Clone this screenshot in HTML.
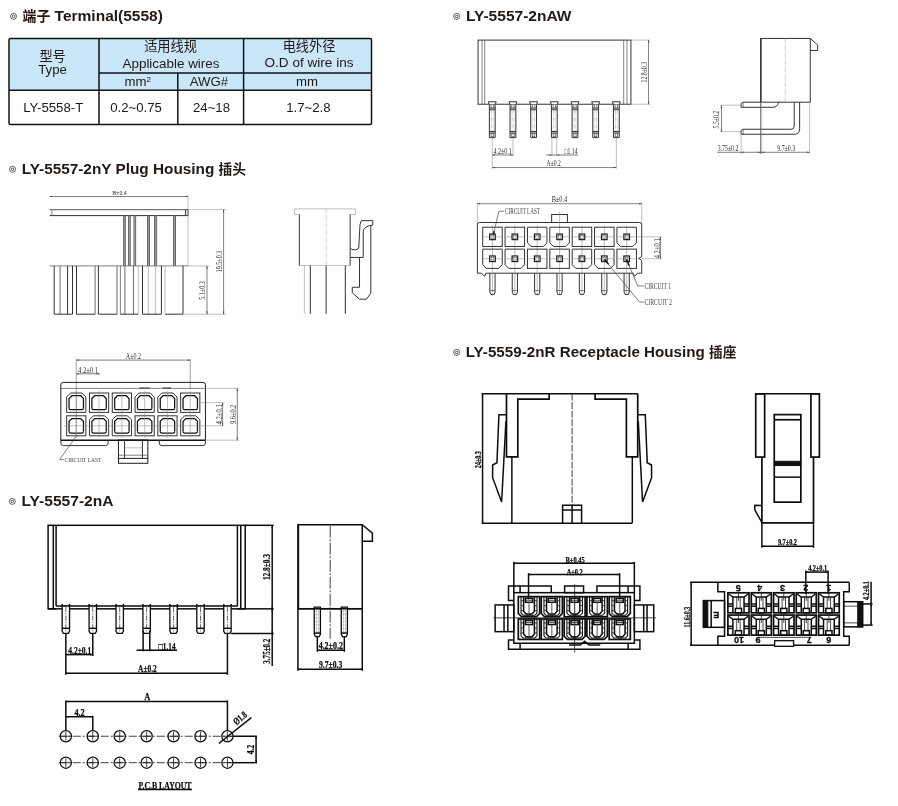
<!DOCTYPE html>
<html lang="zh"><head><meta charset="utf-8"><title>LY-5557 / LY-5559 connector drawings</title>
<style>
html,body{margin:0;padding:0;background:#fff}
body{width:898px;height:806px;overflow:hidden;font-family:"Liberation Sans","Noto Sans CJK SC",sans-serif}
svg{display:block;will-change:transform}
path,rect,circle{fill:none}
.k{stroke:#1c1c1c;stroke-width:1}
.k2{stroke:#111;stroke-width:1.5}
.k3{stroke:#111;stroke-width:2}
.kt{stroke:#222;stroke-width:.7}
.g{stroke:#4a4a4a;stroke-width:.7}
.g2{stroke:#333;stroke-width:1}
.gl{stroke:#8a8a8a;stroke-width:.55}
.gm{stroke:#777;stroke-width:1.1}
.gm2{stroke:#666;stroke-width:.6}
.ki{stroke:#111;stroke-width:1.25}
.gd{stroke:#9a9a9a;stroke-width:.5;stroke-dasharray:4 1.2 1 1.2}
.kd{stroke:#222;stroke-width:.7;stroke-dasharray:5 1.5 1.2 1.5}
.kf{fill:#1c1c1c;stroke:none}
.b{stroke:#0d0d0d;stroke-width:1.5}
.b2{stroke:#0d0d0d;stroke-width:1.7}
.bt{stroke:#1a1a1a;stroke-width:.8}
.bg{stroke:#555;stroke-width:1}
.bm{stroke:#111;stroke-width:1.1}
.bfs{fill:#111;stroke:#111;stroke-width:1}
.bd2{stroke:#111;stroke-width:.8;stroke-dasharray:7 1.5}
.bd{stroke:#111;stroke-width:.8;stroke-dasharray:8 2 2 2}
.bc{stroke:#0d0d0d;stroke-width:1.25}
.kd3{stroke:#555;stroke-width:.5;stroke-dasharray:2.5 1}
.kd4{stroke:#111;stroke-width:.8;stroke-dasharray:12 1.5 2 1.5}
.wb{fill:#fff;stroke:#0d0d0d;stroke-width:1.3}
.kd2{stroke:#222;stroke-width:.7;stroke-dasharray:5 1.2 1.2 1.2}
.dk2{font-family:"Liberation Serif",serif;font-size:8px;fill:#111;font-weight:bold}
.gf{fill:#4a4a4a;stroke:none}
.glf{fill:#8a8a8a;stroke:none}
.bul{stroke:#231815;stroke-width:.7}
.tb{stroke:#111;stroke-width:1.5}
.hb{fill:#c9e7f9;stroke:none}
.wf{fill:#fff;stroke:#1c1c1c;stroke-width:1}
.bf{fill:#111;stroke:none}
.rf{fill:#999;stroke:none}
.wfill{fill:#fff;stroke:none}
.wg{fill:#fff;stroke:#333;stroke-width:1}
.sq{fill:#eee;stroke:#444;stroke-width:.5}
.sqo{fill:#fff;stroke:#1c1c1c;stroke-width:1.2}
text{font-family:"Liberation Sans","Noto Sans CJK SC",sans-serif;fill:#231815}
.tt{font-size:15.4px;font-weight:bold}
.tcj{font-size:13.8px}
.tc{font-size:13.2px;font-family:"Liberation Sans","Noto Sans CJK SC",sans-serif}
.tx{font-size:13.2px}
.d{font-family:"Liberation Serif",serif;font-size:7.5px;fill:#2a2a2a}
.dk{font-family:"Liberation Serif",serif;font-size:10px;fill:#0d0d0d;font-weight:bold;stroke:#0d0d0d;stroke-width:.25px}
.dg{font-family:"Liberation Serif",serif;font-size:7px;fill:#444}
.nb{font-family:"Liberation Sans",sans-serif;font-size:9px;fill:#0d0d0d;font-weight:bold;stroke:#0d0d0d;stroke-width:.3px}
</style></head>
<body>
<svg width="898" height="806" viewBox="0 0 898 806">
<circle class="bul" cx="13.5" cy="16.3" r="3"/>
<circle class="bul" cx="13.5" cy="16.3" r="1.2"/>
<text class="tt" x="22.5" y="20.9" text-anchor="start" textLength="140.4" lengthAdjust="spacingAndGlyphs"><tspan class="tcj">端子</tspan> Terminal(5558)</text>
<circle class="bul" cx="12.5" cy="169.3" r="3"/>
<circle class="bul" cx="12.5" cy="169.3" r="1.2"/>
<text class="tt" x="21.7" y="173.9" text-anchor="start" textLength="224.4" lengthAdjust="spacingAndGlyphs">LY-5557-2nY Plug Housing <tspan class="tcj">插头</tspan></text>
<circle class="bul" cx="12.3" cy="501.4" r="3"/>
<circle class="bul" cx="12.3" cy="501.4" r="1.2"/>
<text class="tt" x="21.5" y="506" text-anchor="start" textLength="92" lengthAdjust="spacingAndGlyphs">LY-5557-2nA</text>
<circle class="bul" cx="456.7" cy="16.4" r="3"/>
<circle class="bul" cx="456.7" cy="16.4" r="1.2"/>
<text class="tt" x="465.9" y="21" text-anchor="start" textLength="105.6" lengthAdjust="spacingAndGlyphs">LY-5557-2nAW</text>
<circle class="bul" cx="456.7" cy="352.4" r="3"/>
<circle class="bul" cx="456.7" cy="352.4" r="1.2"/>
<text class="tt" x="465.7" y="357" text-anchor="start" textLength="270.6" lengthAdjust="spacingAndGlyphs">LY-5559-2nR Receptacle Housing <tspan class="tcj">插座</tspan></text>
<rect class="hb" x="9" y="38.4" width="362.5" height="51.8"/>
<rect class="tb" x="9" y="38.4" width="362.5" height="86.2" rx="1.5"/>
<path class="tb" d="M99 38.4L99 124.6"/>
<path class="tb" d="M243.6 38.4L243.6 124.6"/>
<path class="tb" d="M177.8 73.1L177.8 124.6"/>
<path class="tb" d="M99 73.1L371.5 73.1"/>
<path class="tb" d="M9 90.2L371.5 90.2"/>
<text class="tc" x="52.6" y="60.5" text-anchor="middle">型号</text>
<text class="tx" x="52.6" y="74.2" text-anchor="middle">Type</text>
<text class="tc" x="170.5" y="50.8" text-anchor="middle">适用线规</text>
<text class="tx" x="171" y="67.8" text-anchor="middle" textLength="97" lengthAdjust="spacingAndGlyphs">Applicable wires</text>
<text class="tc" x="309" y="50.8" text-anchor="middle">电线外径</text>
<text class="tx" x="309" y="67.3" text-anchor="middle" textLength="89" lengthAdjust="spacingAndGlyphs">O.D of wire ins</text>
<text class="tx" x="137.7" y="85.5" text-anchor="middle">mm<tspan dy="-4" font-size="8">2</tspan></text>
<text class="tx" x="209" y="85.5" text-anchor="middle">AWG#</text>
<text class="tx" x="307" y="85.5" text-anchor="middle">mm</text>
<text class="tx" x="53.2" y="112.2" text-anchor="middle">LY-5558-T</text>
<text class="tx" x="136" y="112.2" text-anchor="middle">0.2~0.75</text>
<text class="tx" x="211.5" y="112.2" text-anchor="middle">24~18</text>
<text class="tx" x="308.4" y="112.2" text-anchor="middle">1.7~2.8</text>
<path class="g" d="M49.6 196.5L188 196.5"/>
<path class="gf" d="M49.6 196.5L52.2 195.7L52.2 197.3Z"/>
<path class="gf" d="M188 196.5L185.4 195.7L185.4 197.3Z"/>
<path class="gl" d="M188 194.5L188 209.6"/>
<text class="d" x="119.5" y="195" text-anchor="middle" textLength="14.7" lengthAdjust="spacingAndGlyphs" style="font-size:6px">B±0.4</text>
<path class="gm" d="M49.6 209.6L188 209.6"/>
<path class="g2" d="M49.6 215.6L188 215.6"/>
<path class="g" d="M51.9 209.6L51.9 215.6"/>
<path class="g2" d="M188 209.6L188 215.6"/>
<path class="g2" d="M185.6 209.6L185.6 215.6"/>
<path class="gl" d="M188 215.6L188 265.9"/>
<path class="g" d="M49.6 265.9L188 265.9"/>
<path class="g2" d="M123.7 215.6L123.7 265.9"/>
<path class="g2" d="M125.2 215.6L125.2 265.9"/>
<rect class="rf" x="123.7" y="215.6" width="1.5" height="50.3"/>
<path class="g2" d="M128.6 215.6L128.6 265.9"/>
<path class="g2" d="M130.1 215.6L130.1 265.9"/>
<rect class="rf" x="128.6" y="215.6" width="1.5" height="50.3"/>
<path class="g2" d="M134.1 215.6L134.1 265.9"/>
<path class="g2" d="M135.6 215.6L135.6 265.9"/>
<rect class="rf" x="134.1" y="215.6" width="1.5" height="50.3"/>
<path class="g2" d="M147.7 215.6L147.7 265.9"/>
<path class="g2" d="M149.5 215.6L149.5 265.9"/>
<rect class="rf" x="147.7" y="215.6" width="1.8" height="50.3"/>
<path class="g2" d="M154.7 215.6L154.7 265.9"/>
<path class="g2" d="M156.6 215.6L156.6 265.9"/>
<rect class="rf" x="154.7" y="215.6" width="1.9" height="50.3"/>
<path class="g2" d="M173.7 215.6L173.7 265.9"/>
<path class="g2" d="M175.5 215.6L175.5 265.9"/>
<rect class="rf" x="173.7" y="215.6" width="1.8" height="50.3"/>
<path class="g2" d="M54.2 265.9L54.2 314.2"/>
<path class="gm" d="M60.1 265.9L60.1 314.2"/>
<path class="g2" d="M67.6 265.9L67.6 314.2"/>
<path class="g2" d="M72.5 265.9L72.5 314.2"/>
<path class="g2" d="M54.2 314.2L72.5 314.2"/>
<path class="g2" d="M76.5 265.9L76.5 314.2"/>
<path class="gm" d="M95.1 265.9L95.1 314.2"/>
<path class="g2" d="M76.5 314.2L95.1 314.2"/>
<path class="g2" d="M98.4 265.9L98.4 314.2"/>
<path class="gm" d="M117 265.9L117 314.2"/>
<path class="g2" d="M98.4 314.2L117 314.2"/>
<path class="g" d="M120.4 265.9L120.4 314.2"/>
<path class="gm" d="M124.9 265.9L124.9 314.2"/>
<path class="gm" d="M133.5 265.9L133.5 314.2"/>
<path class="gl" d="M138.3 265.9L138.3 314.2"/>
<path class="g2" d="M120.4 314.2L138.3 314.2"/>
<path class="g2" d="M142.5 265.9L142.5 314.2"/>
<path class="gl" d="M148.4 265.9L148.4 314.2"/>
<path class="gl" d="M155.4 265.9L155.4 314.2"/>
<path class="g2" d="M161.4 265.9L161.4 314.2"/>
<path class="g2" d="M142.5 314.2L161.4 314.2"/>
<path class="gl" d="M165.1 265.9L165.1 314.2"/>
<path class="g2" d="M183 265.9L183 314.2"/>
<path class="g2" d="M165.1 314.2L183 314.2"/>
<path class="gl" d="M188 209.6L226 209.6"/>
<path class="gl" d="M188 265.9L209.5 265.9"/>
<path class="gl" d="M183.7 314.2L226 314.2"/>
<path class="g" d="M207 265.9L207 314.2"/>
<path class="gf" d="M207 265.9L206.2 268.5L207.8 268.5Z"/>
<path class="gf" d="M207 314.2L206.2 311.6L207.8 311.6Z"/>
<path class="g" d="M223.6 209.6L223.6 314.2"/>
<path class="gf" d="M223.6 209.6L222.8 212.2L224.4 212.2Z"/>
<path class="gf" d="M223.6 314.2L222.8 311.6L224.4 311.6Z"/>
<text class="d" x="205.4" y="290.5" text-anchor="middle" transform="rotate(-90 205.4 290.5)" textLength="18.6" lengthAdjust="spacingAndGlyphs">5.1±0.3</text>
<text class="d" x="222" y="261.5" text-anchor="middle" transform="rotate(-90 222 261.5)" textLength="21.6" lengthAdjust="spacingAndGlyphs">19.5±0.3</text>
<path class="gl" d="M294.52 208.87L355.48 208.87"/>
<path class="gl" d="M294.52 208.87L294.52 214.52"/>
<path class="gl" d="M355.48 208.87L355.48 214.52"/>
<path class="gl" d="M294.52 214.52L299.35 214.52"/>
<path class="gl" d="M350.16 214.52L355.48 214.52"/>
<path class="g2" d="M299.35 214.52L299.35 265.48"/>
<path class="g2" d="M350.16 214.52L350.16 265.48"/>
<path class="gl" d="M299.35 265.48L350.16 265.48"/>
<path class="gd" d="M326.13 208.87L326.13 265.48"/>
<path class="gl" d="M304.35 265.48L304.35 313.87"/>
<path class="g2" d="M310.32 265.48L310.32 313.87"/>
<path class="g2" d="M326.13 265.48L326.13 313.87"/>
<path class="g2" d="M345.32 265.48L345.32 313.87"/>
<path class="g2" d="M350.16 247.74L351.45 249.35L355.48 250L358.71 248.39L360 224.68L361.29 220.65L372.74 220.65L372.74 225.16"/>
<path class="g2" d="M372.74 225.16Q364.35 225.81 363.23 231.13"/>
<path class="g2" d="M363.23 231.13L363.23 257.42L350.16 257.42"/>
<path class="g2" d="M359.52 257.42L359.52 287.26L352.26 287.26L352.26 292.74L359.52 299.19L366.45 299.19L370.81 293.23L370.81 225.81"/>
<path class="g" d="M76.27 360.1L190.25 360.1"/>
<path class="gf" d="M76.27 360.1L78.87 359.3L78.87 360.9Z"/>
<path class="gf" d="M190.25 360.1L187.65 359.3L187.65 360.9Z"/>
<text class="d" x="133.4" y="359" text-anchor="middle" textLength="15.2" lengthAdjust="spacingAndGlyphs">A±0.2</text>
<path class="g" d="M76.27 373.82L99.07 373.82"/>
<path class="gf" d="M76.27 373.82L78.87 373.02L78.87 374.62Z"/>
<path class="gf" d="M99.07 373.82L96.47 373.02L96.47 374.62Z"/>
<text class="d" x="88" y="372.8" text-anchor="middle" textLength="20" lengthAdjust="spacingAndGlyphs">4.2±0.1</text>
<path class="gm2" d="M76.27 359.12L76.27 436.81"/>
<path class="gm2" d="M190.25 359.12L190.25 389.02"/>
<path class="g" d="M99.07 372.84L99.07 374.8"/>
<path class="k" d="M60.83 440.2L60.83 384.9Q60.83 382.4 63.33 382.4L202.94 382.4Q205.44 382.4 205.44 384.9L205.44 440.2"/>
<path class="g" d="M60.83 388.4L205.44 388.4"/>
<path class="k2" d="M60.83 440.2L205.44 440.2"/>
<path class="g2" d="M60.83 440.2L60.83 443.1Q60.83 445.6 63.33 445.6L105.64 445.6Q108.14 445.6 108.14 443.1"/>
<path class="g2" d="M108.14 440.2L108.14 443.1"/>
<path class="g2" d="M205.44 440.2L205.44 443.1Q205.44 445.6 202.94 445.6L161.86 445.6Q159.36 445.6 159.36 443.1"/>
<path class="g2" d="M159.36 440.2L159.36 443.1"/>
<rect class="k" x="118.43" y="440" width="29.41" height="23.28"/>
<path class="k" d="M118.43 458.38L147.84 458.38"/>
<path class="g2" d="M124.56 440L124.56 458.38"/>
<path class="g2" d="M142.45 440L142.45 458.38"/>
<path class="gl" d="M124.56 447.84L142.45 447.84"/>
<path class="g" d="M118.43 455.2L147.84 455.2"/>
<path class="g2" d="M66.67 412.4L66.67 397L70.67 393L81.87 393L85.87 397L85.87 412.4Z"/>
<path class="ki" d="M69.07 408.2L69.07 398.5L71.87 395.7L80.67 395.7L83.47 398.5L83.47 408.2"/>
<path class="ki" d="M69.07 408.2Q69.07 409.6 70.47 409.6L82.07 409.6Q83.47 409.6 83.47 408.2"/>
<rect class="g2" x="66.67" y="415.8" width="19.2" height="20"/>
<path class="ki" d="M69.07 431.6L69.07 421.3L71.87 418.5L80.67 418.5L83.47 421.3L83.47 431.6"/>
<path class="ki" d="M69.07 431.6Q69.07 433 70.47 433L82.07 433Q83.47 433 83.47 431.6"/>
<rect class="g2" x="89.47" y="393" width="19.2" height="19.4"/>
<path class="ki" d="M91.87 408.2L91.87 398.5L94.67 395.7L103.47 395.7L106.27 398.5L106.27 408.2"/>
<path class="ki" d="M91.87 408.2Q91.87 409.6 93.27 409.6L104.87 409.6Q106.27 409.6 106.27 408.2"/>
<path class="g2" d="M89.47 435.8L89.47 419.8L93.47 415.8L104.67 415.8L108.67 419.8L108.67 435.8Z"/>
<path class="ki" d="M91.87 431.6L91.87 421.3L94.67 418.5L103.47 418.5L106.27 421.3L106.27 431.6"/>
<path class="ki" d="M91.87 431.6Q91.87 433 93.27 433L104.87 433Q106.27 433 106.27 431.6"/>
<rect class="g2" x="112.26" y="393" width="19.2" height="19.4"/>
<path class="ki" d="M114.66 408.2L114.66 398.5L117.46 395.7L126.26 395.7L129.06 398.5L129.06 408.2"/>
<path class="ki" d="M114.66 408.2Q114.66 409.6 116.06 409.6L127.66 409.6Q129.06 409.6 129.06 408.2"/>
<path class="g2" d="M112.26 435.8L112.26 419.8L116.26 415.8L127.46 415.8L131.46 419.8L131.46 435.8Z"/>
<path class="ki" d="M114.66 431.6L114.66 421.3L117.46 418.5L126.26 418.5L129.06 421.3L129.06 431.6"/>
<path class="ki" d="M114.66 431.6Q114.66 433 116.06 433L127.66 433Q129.06 433 129.06 431.6"/>
<path class="g2" d="M135.06 412.4L135.06 397L139.06 393L150.26 393L154.26 397L154.26 412.4Z"/>
<path class="ki" d="M137.46 408.2L137.46 398.5L140.26 395.7L149.06 395.7L151.86 398.5L151.86 408.2"/>
<path class="ki" d="M137.46 408.2Q137.46 409.6 138.86 409.6L150.46 409.6Q151.86 409.6 151.86 408.2"/>
<rect class="g2" x="135.06" y="415.8" width="19.2" height="20"/>
<path class="ki" d="M137.46 431.6L137.46 421.3L140.26 418.5L149.06 418.5L151.86 421.3L151.86 431.6"/>
<path class="ki" d="M137.46 431.6Q137.46 433 138.86 433L150.46 433Q151.86 433 151.86 431.6"/>
<path class="g2" d="M157.85 412.4L157.85 397L161.85 393L173.05 393L177.05 397L177.05 412.4Z"/>
<path class="ki" d="M160.25 408.2L160.25 398.5L163.05 395.7L171.85 395.7L174.65 398.5L174.65 408.2"/>
<path class="ki" d="M160.25 408.2Q160.25 409.6 161.65 409.6L173.25 409.6Q174.65 409.6 174.65 408.2"/>
<rect class="g2" x="157.85" y="415.8" width="19.2" height="20"/>
<path class="ki" d="M160.25 431.6L160.25 421.3L163.05 418.5L171.85 418.5L174.65 421.3L174.65 431.6"/>
<path class="ki" d="M160.25 431.6Q160.25 433 161.65 433L173.25 433Q174.65 433 174.65 431.6"/>
<rect class="g2" x="180.65" y="393" width="19.2" height="19.4"/>
<path class="ki" d="M183.05 408.2L183.05 398.5L185.85 395.7L194.65 395.7L197.45 398.5L197.45 408.2"/>
<path class="ki" d="M183.05 408.2Q183.05 409.6 184.45 409.6L196.05 409.6Q197.45 409.6 197.45 408.2"/>
<path class="g2" d="M180.65 435.8L180.65 419.8L184.65 415.8L195.85 415.8L199.85 419.8L199.85 435.8Z"/>
<path class="ki" d="M183.05 431.6L183.05 421.3L185.85 418.5L194.65 418.5L197.45 421.3L197.45 431.6"/>
<path class="ki" d="M183.05 431.6Q183.05 433 184.45 433L196.05 433Q197.45 433 197.45 431.6"/>
<path class="gl" d="M63.83 425.8L224.31 425.8"/>
<path class="gl" d="M76.27 391L76.27 437.8"/>
<path class="gl" d="M99.07 391L99.07 437.8"/>
<path class="gl" d="M121.86 391L121.86 437.8"/>
<path class="gl" d="M144.66 391L144.66 437.8"/>
<path class="gl" d="M167.45 391L167.45 437.8"/>
<path class="gl" d="M190.25 391L190.25 437.8"/>
<path class="gl" d="M196.86 402.7L224.31 402.7"/>
<path class="gl" d="M205.44 388.4L239.02 388.4"/>
<path class="gl" d="M205.44 440.2L239.02 440.2"/>
<path class="g" d="M222.6 402.7L222.6 425.8"/>
<path class="gf" d="M222.6 402.7L221.8 405.3L223.4 405.3Z"/>
<path class="gf" d="M222.6 425.8L221.8 423.2L223.4 423.2Z"/>
<path class="g" d="M237.3 388.4L237.3 440.2"/>
<path class="gf" d="M237.3 388.4L236.5 391L238.1 391Z"/>
<path class="gf" d="M237.3 440.2L236.5 437.6L238.1 437.6Z"/>
<text class="d" x="221.66" y="414.3" text-anchor="middle" transform="rotate(-90 221.66 414.3)" textLength="20.3" lengthAdjust="spacingAndGlyphs">4.2±0.1</text>
<text class="d" x="236.36" y="414.3" text-anchor="middle" transform="rotate(-90 236.36 414.3)" textLength="19" lengthAdjust="spacingAndGlyphs">9.6±0.2</text>
<path class="g" d="M59.61 459.61L76.27 436.08"/>
<path class="g" d="M59.61 459.61L64.02 459.61"/>
<text class="dg" x="64.51" y="462.06" text-anchor="start" textLength="36.8" lengthAdjust="spacingAndGlyphs">CIRCUIT LAST</text>
<path class="g2" d="M139.26 388L149.8 388"/>
<path class="g2" d="M162.55 388L171.13 388"/>
<rect class="b" x="48.1" y="525.31" width="197.1" height="83.52"/>
<path class="b" d="M53.3 525.31L53.3 608.83"/>
<path class="b" d="M56.1 525.31L56.1 606.05"/>
<path class="b" d="M237.41 525.31L237.41 606.05"/>
<path class="b" d="M240.75 525.31L240.75 608.83"/>
<path class="b" d="M56.1 606.05L237.41 606.05"/>
<path class="b" d="M48.1 608.83L56.1 608.83"/>
<path class="b" d="M237.41 608.83L245.2 608.83"/>
<path class="wb" d="M62.15 606.05L62.15 631.4L63.35 633.4L68.35 633.4L69.55 631.4L69.55 606.05Z"/>
<path class="b" d="M62.15 628.3L69.55 628.3"/>
<path class="kd2" d="M65.85 607.05L65.85 631.3"/>
<path class="b" d="M62.15 604.05L62.15 606.05"/>
<path class="b" d="M69.55 604.05L69.55 606.05"/>
<path class="wb" d="M89.08 606.05L89.08 631.4L90.28 633.4L95.28 633.4L96.48 631.4L96.48 606.05Z"/>
<path class="b" d="M89.08 628.3L96.48 628.3"/>
<path class="kd2" d="M92.78 607.05L92.78 631.3"/>
<path class="b" d="M89.08 604.05L89.08 606.05"/>
<path class="b" d="M96.48 604.05L96.48 606.05"/>
<path class="wb" d="M116.01 606.05L116.01 631.4L117.21 633.4L122.21 633.4L123.41 631.4L123.41 606.05Z"/>
<path class="b" d="M116.01 628.3L123.41 628.3"/>
<path class="kd2" d="M119.71 607.05L119.71 631.3"/>
<path class="b" d="M116.01 604.05L116.01 606.05"/>
<path class="b" d="M123.41 604.05L123.41 606.05"/>
<path class="wb" d="M142.94 606.05L142.94 631.4L144.14 633.4L149.14 633.4L150.34 631.4L150.34 606.05Z"/>
<path class="b" d="M142.94 628.3L150.34 628.3"/>
<path class="kd2" d="M146.64 607.05L146.64 631.3"/>
<path class="b" d="M142.94 604.05L142.94 606.05"/>
<path class="b" d="M150.34 604.05L150.34 606.05"/>
<path class="wb" d="M169.87 606.05L169.87 631.4L171.07 633.4L176.07 633.4L177.27 631.4L177.27 606.05Z"/>
<path class="b" d="M169.87 628.3L177.27 628.3"/>
<path class="kd2" d="M173.57 607.05L173.57 631.3"/>
<path class="b" d="M169.87 604.05L169.87 606.05"/>
<path class="b" d="M177.27 604.05L177.27 606.05"/>
<path class="wb" d="M196.8 606.05L196.8 631.4L198 633.4L203 633.4L204.2 631.4L204.2 606.05Z"/>
<path class="b" d="M196.8 628.3L204.2 628.3"/>
<path class="kd2" d="M200.5 607.05L200.5 631.3"/>
<path class="b" d="M196.8 604.05L196.8 606.05"/>
<path class="b" d="M204.2 604.05L204.2 606.05"/>
<path class="wb" d="M223.73 606.05L223.73 631.4L224.93 633.4L229.93 633.4L231.13 631.4L231.13 606.05Z"/>
<path class="b" d="M223.73 628.3L231.13 628.3"/>
<path class="kd2" d="M227.43 607.05L227.43 631.3"/>
<path class="b" d="M223.73 604.05L223.73 606.05"/>
<path class="b" d="M231.13 604.05L231.13 606.05"/>
<path class="b" d="M245.2 525.31L273.7 525.31"/>
<path class="b" d="M245.2 608.83L273.7 608.83"/>
<path class="b" d="M231.13 633.4L273.7 633.4"/>
<path class="b" d="M272.2 525.31L272.2 665.9"/>
<path class="bf" d="M272.2 525.31L271.4 527.91L273 527.91Z"/>
<path class="bf" d="M272.2 608.83L271.4 606.23L273 606.23Z"/>
<path class="bf" d="M272.2 608.83L271.4 611.43L273 611.43Z"/>
<path class="bf" d="M272.2 633.4L271.4 630.8L273 630.8Z"/>
<text class="dk" x="270.2" y="567.07" text-anchor="middle" transform="rotate(-90 270.2 567.07)" textLength="26" lengthAdjust="spacingAndGlyphs">12.8±0.3</text>
<text class="dk" x="270.2" y="651.15" text-anchor="middle" transform="rotate(-90 270.2 651.15)" textLength="25" lengthAdjust="spacingAndGlyphs">3.75±0.2</text>
<path class="b" d="M65.85 633.4L65.85 674.8"/>
<path class="b" d="M227.43 633.4L227.43 674.8"/>
<path class="b" d="M92.78 633.4L92.78 656.1"/>
<path class="b" d="M65.85 673.3L227.43 673.3"/>
<path class="bf" d="M65.85 673.3L68.45 672.5L68.45 674.1Z"/>
<path class="bf" d="M227.43 673.3L224.83 672.5L224.83 674.1Z"/>
<text class="dk" x="147.4" y="671.8" text-anchor="middle" textLength="18.7" lengthAdjust="spacingAndGlyphs">A±0.2</text>
<path class="b" d="M65.85 654.6L92.78 654.6"/>
<path class="bf" d="M65.85 654.6L68.45 653.8L68.45 655.4Z"/>
<path class="bf" d="M92.78 654.6L90.18 653.8L90.18 655.4Z"/>
<text class="dk" x="79.8" y="653.6" text-anchor="middle" textLength="22.9" lengthAdjust="spacingAndGlyphs">4.2±0.1</text>
<path class="b" d="M143.1 630.4L143.1 651.3"/>
<path class="b" d="M149.8 630.4L149.8 651.3"/>
<path class="b" d="M136.5 650.3L177 650.3"/>
<path class="bf" d="M143.1 650.3L140.5 649.5L140.5 651.1Z"/>
<path class="bf" d="M149.8 650.3L152.4 649.5L152.4 651.1Z"/>
<text class="dk" x="167" y="649.8" text-anchor="middle" textLength="17" lengthAdjust="spacingAndGlyphs">□1.14</text>
<rect class="b" x="297.93" y="524.76" width="64.33" height="83.95"/>
<path class="k2" d="M298.43 524.76L298.43 608.71"/>
<path class="b" d="M362.26 524.76L372.39 533.2L372.39 541.22L362.26 541.22"/>
<path class="kd4" d="M330.2 525.76L330.2 638.66"/>
<path class="wb" d="M314.25 607.21L314.25 634.36L315.55 636.56L319.13 636.56L320.43 634.36L320.43 607.21Z"/>
<path class="b" d="M314.25 633.06L320.43 633.06"/>
<path class="kd3" d="M316.35 609.71L316.35 633.06"/>
<path class="kd3" d="M318.33 609.71L318.33 633.06"/>
<path class="wb" d="M341.25 607.21L341.25 634.36L342.55 636.56L346.13 636.56L347.43 634.36L347.43 607.21Z"/>
<path class="b" d="M341.25 633.06L347.43 633.06"/>
<path class="kd3" d="M343.35 609.71L343.35 633.06"/>
<path class="kd3" d="M345.33 609.71L345.33 633.06"/>
<path class="b" d="M297.93 608.71L362.26 608.71"/>
<path class="b" d="M317.33 636.56L317.33 651.77"/>
<path class="b" d="M344.33 636.56L344.33 651.77"/>
<path class="b" d="M317.33 650.27L344.33 650.27"/>
<path class="bf" d="M317.33 650.27L319.93 649.47L319.93 651.07Z"/>
<path class="bf" d="M344.33 650.27L341.73 649.47L341.73 651.07Z"/>
<text class="dk" x="330.8" y="649.17" text-anchor="middle" textLength="24.3" lengthAdjust="spacingAndGlyphs">4.2±0.2</text>
<path class="b" d="M297.93 608.71L297.93 670.75"/>
<path class="b" d="M362.26 608.71L362.26 670.75"/>
<path class="b" d="M297.93 669.25L362.26 669.25"/>
<path class="bf" d="M297.93 669.25L300.53 668.45L300.53 670.05Z"/>
<path class="bf" d="M362.26 669.25L359.66 668.45L359.66 670.05Z"/>
<text class="dk" x="330.6" y="667.95" text-anchor="middle" textLength="23.2" lengthAdjust="spacingAndGlyphs">9.7±0.3</text>
<path class="bd" d="M58.75 736.24L233.03 736.24"/>
<path class="bd" d="M58.75 762.68L233.03 762.68"/>
<circle class="bc" cx="65.85" cy="736.24" r="5.6"/>
<path class="bt" d="M65.85 731.84L65.85 740.64"/>
<path class="bt" d="M61.45 736.24L70.25 736.24"/>
<circle class="bc" cx="65.85" cy="762.68" r="5.6"/>
<path class="bt" d="M65.85 758.28L65.85 767.08"/>
<path class="bt" d="M61.45 762.68L70.25 762.68"/>
<circle class="bc" cx="92.78" cy="736.24" r="5.6"/>
<path class="bt" d="M92.78 731.84L92.78 740.64"/>
<path class="bt" d="M88.38 736.24L97.18 736.24"/>
<circle class="bc" cx="92.78" cy="762.68" r="5.6"/>
<path class="bt" d="M92.78 758.28L92.78 767.08"/>
<path class="bt" d="M88.38 762.68L97.18 762.68"/>
<circle class="bc" cx="119.71" cy="736.24" r="5.6"/>
<path class="bt" d="M119.71 731.84L119.71 740.64"/>
<path class="bt" d="M115.31 736.24L124.11 736.24"/>
<circle class="bc" cx="119.71" cy="762.68" r="5.6"/>
<path class="bt" d="M119.71 758.28L119.71 767.08"/>
<path class="bt" d="M115.31 762.68L124.11 762.68"/>
<circle class="bc" cx="146.64" cy="736.24" r="5.6"/>
<path class="bt" d="M146.64 731.84L146.64 740.64"/>
<path class="bt" d="M142.24 736.24L151.04 736.24"/>
<circle class="bc" cx="146.64" cy="762.68" r="5.6"/>
<path class="bt" d="M146.64 758.28L146.64 767.08"/>
<path class="bt" d="M142.24 762.68L151.04 762.68"/>
<circle class="bc" cx="173.57" cy="736.24" r="5.6"/>
<path class="bt" d="M173.57 731.84L173.57 740.64"/>
<path class="bt" d="M169.17 736.24L177.97 736.24"/>
<circle class="bc" cx="173.57" cy="762.68" r="5.6"/>
<path class="bt" d="M173.57 758.28L173.57 767.08"/>
<path class="bt" d="M169.17 762.68L177.97 762.68"/>
<circle class="bc" cx="200.5" cy="736.24" r="5.6"/>
<path class="bt" d="M200.5 731.84L200.5 740.64"/>
<path class="bt" d="M196.1 736.24L204.9 736.24"/>
<circle class="bc" cx="200.5" cy="762.68" r="5.6"/>
<path class="bt" d="M200.5 758.28L200.5 767.08"/>
<path class="bt" d="M196.1 762.68L204.9 762.68"/>
<circle class="bc" cx="227.43" cy="736.24" r="5.6"/>
<path class="bt" d="M227.43 731.84L227.43 740.64"/>
<path class="bt" d="M223.03 736.24L231.83 736.24"/>
<circle class="bc" cx="227.43" cy="762.68" r="5.6"/>
<path class="bt" d="M227.43 758.28L227.43 767.08"/>
<path class="bt" d="M223.03 762.68L231.83 762.68"/>
<path class="b" d="M65.85 700.44L65.85 730.64"/>
<path class="b" d="M227.43 700.44L227.43 730.64"/>
<path class="b" d="M92.78 715.75L92.78 730.64"/>
<path class="b" d="M65.85 701.44L227.43 701.44"/>
<path class="bf" d="M65.85 701.44L68.45 700.64L68.45 702.24Z"/>
<path class="bf" d="M227.43 701.44L224.83 700.64L224.83 702.24Z"/>
<text class="dk" x="147.2" y="700.44" text-anchor="middle" textLength="6" lengthAdjust="spacingAndGlyphs">A</text>
<path class="b" d="M65.85 716.75L92.78 716.75"/>
<path class="bf" d="M65.85 716.75L68.45 715.95L68.45 717.55Z"/>
<path class="bf" d="M92.78 716.75L90.18 715.95L90.18 717.55Z"/>
<text class="dk" x="79.55" y="715.95" text-anchor="middle" textLength="10.3" lengthAdjust="spacingAndGlyphs">4.2</text>
<path class="b" d="M218.75 743.47L251.33 717.58"/>
<text class="dk" x="242.14" y="720.65" text-anchor="middle" transform="rotate(-40 242.14 720.65)" textLength="15" lengthAdjust="spacingAndGlyphs">Ø1.8</text>
<path class="b" d="M233.03 736.24L257.06 736.24"/>
<path class="b" d="M233.03 762.68L257.06 762.68"/>
<path class="b" d="M256.06 736.24L256.06 762.68"/>
<path class="bf" d="M256.06 736.24L255.26 738.84L256.86 738.84Z"/>
<path class="bf" d="M256.06 762.68L255.26 760.08L256.86 760.08Z"/>
<text class="dk" x="254.06" y="749.46" text-anchor="middle" transform="rotate(-90 254.06 749.46)" textLength="9.5" lengthAdjust="spacingAndGlyphs">4.2</text>
<text class="dk" x="165.02" y="788.57" text-anchor="middle" textLength="52.9" lengthAdjust="spacingAndGlyphs">P.C.B LAYOUT</text>
<path class="b" d="M138.02 789.41L192.03 789.41"/>
<rect class="g2" x="478.06" y="40.09" width="152.86" height="64.14"/>
<path class="g" d="M482.07 40.09L482.07 104.22"/>
<path class="g" d="M484.74 40.09L484.74 104.22"/>
<path class="g" d="M623.7 40.09L623.7 104.22"/>
<path class="g" d="M626.91 40.09L626.91 104.22"/>
<path class="wg" d="M488.26 101.78L496.26 101.78L495.16 104.58L495.16 137.63L489.36 137.63L489.36 104.58Z"/>
<path class="g" d="M489.36 104.58L495.16 104.58"/>
<path class="g2" d="M489.36 108.08L495.16 108.08"/>
<path class="g2" d="M489.36 109.78L495.16 109.78"/>
<path class="g" d="M491.06 104.58L491.06 108.08"/>
<path class="g" d="M493.46 104.58L493.46 108.08"/>
<path class="g2" d="M489.36 131.43L495.16 131.43"/>
<path class="g2" d="M489.36 133.03L495.16 133.03"/>
<rect class="g" x="491.06" y="133.83" width="2.4" height="2.9"/>
<path class="gd" d="M491.36 109.78L491.36 131.43"/>
<path class="gd" d="M493.16 109.78L493.16 131.43"/>
<path class="wg" d="M508.94 101.78L516.94 101.78L515.84 104.58L515.84 137.63L510.04 137.63L510.04 104.58Z"/>
<path class="g" d="M510.04 104.58L515.84 104.58"/>
<path class="g2" d="M510.04 108.08L515.84 108.08"/>
<path class="g2" d="M510.04 109.78L515.84 109.78"/>
<path class="g" d="M511.74 104.58L511.74 108.08"/>
<path class="g" d="M514.14 104.58L514.14 108.08"/>
<path class="g2" d="M510.04 131.43L515.84 131.43"/>
<path class="g2" d="M510.04 133.03L515.84 133.03"/>
<rect class="g" x="511.74" y="133.83" width="2.4" height="2.9"/>
<path class="gd" d="M512.04 109.78L512.04 131.43"/>
<path class="gd" d="M513.84 109.78L513.84 131.43"/>
<path class="wg" d="M529.62 101.78L537.62 101.78L536.52 104.58L536.52 137.63L530.72 137.63L530.72 104.58Z"/>
<path class="g" d="M530.72 104.58L536.52 104.58"/>
<path class="g2" d="M530.72 108.08L536.52 108.08"/>
<path class="g2" d="M530.72 109.78L536.52 109.78"/>
<path class="g" d="M532.42 104.58L532.42 108.08"/>
<path class="g" d="M534.82 104.58L534.82 108.08"/>
<path class="g2" d="M530.72 131.43L536.52 131.43"/>
<path class="g2" d="M530.72 133.03L536.52 133.03"/>
<rect class="g" x="532.42" y="133.83" width="2.4" height="2.9"/>
<path class="gd" d="M532.72 109.78L532.72 131.43"/>
<path class="gd" d="M534.52 109.78L534.52 131.43"/>
<path class="wg" d="M550.31 101.78L558.31 101.78L557.21 104.58L557.21 137.63L551.41 137.63L551.41 104.58Z"/>
<path class="g" d="M551.41 104.58L557.21 104.58"/>
<path class="g2" d="M551.41 108.08L557.21 108.08"/>
<path class="g2" d="M551.41 109.78L557.21 109.78"/>
<path class="g" d="M553.11 104.58L553.11 108.08"/>
<path class="g" d="M555.51 104.58L555.51 108.08"/>
<path class="g2" d="M551.41 131.43L557.21 131.43"/>
<path class="g2" d="M551.41 133.03L557.21 133.03"/>
<rect class="g" x="553.11" y="133.83" width="2.4" height="2.9"/>
<path class="gd" d="M553.41 109.78L553.41 131.43"/>
<path class="gd" d="M555.21 109.78L555.21 131.43"/>
<path class="wg" d="M570.99 101.78L578.99 101.78L577.89 104.58L577.89 137.63L572.09 137.63L572.09 104.58Z"/>
<path class="g" d="M572.09 104.58L577.89 104.58"/>
<path class="g2" d="M572.09 108.08L577.89 108.08"/>
<path class="g2" d="M572.09 109.78L577.89 109.78"/>
<path class="g" d="M573.79 104.58L573.79 108.08"/>
<path class="g" d="M576.19 104.58L576.19 108.08"/>
<path class="g2" d="M572.09 131.43L577.89 131.43"/>
<path class="g2" d="M572.09 133.03L577.89 133.03"/>
<rect class="g" x="573.79" y="133.83" width="2.4" height="2.9"/>
<path class="gd" d="M574.09 109.78L574.09 131.43"/>
<path class="gd" d="M575.89 109.78L575.89 131.43"/>
<path class="wg" d="M591.68 101.78L599.68 101.78L598.58 104.58L598.58 137.63L592.78 137.63L592.78 104.58Z"/>
<path class="g" d="M592.78 104.58L598.58 104.58"/>
<path class="g2" d="M592.78 108.08L598.58 108.08"/>
<path class="g2" d="M592.78 109.78L598.58 109.78"/>
<path class="g" d="M594.48 104.58L594.48 108.08"/>
<path class="g" d="M596.88 104.58L596.88 108.08"/>
<path class="g2" d="M592.78 131.43L598.58 131.43"/>
<path class="g2" d="M592.78 133.03L598.58 133.03"/>
<rect class="g" x="594.48" y="133.83" width="2.4" height="2.9"/>
<path class="gd" d="M594.78 109.78L594.78 131.43"/>
<path class="gd" d="M596.58 109.78L596.58 131.43"/>
<path class="wg" d="M612.36 101.78L620.36 101.78L619.26 104.58L619.26 137.63L613.46 137.63L613.46 104.58Z"/>
<path class="g" d="M613.46 104.58L619.26 104.58"/>
<path class="g2" d="M613.46 108.08L619.26 108.08"/>
<path class="g2" d="M613.46 109.78L619.26 109.78"/>
<path class="g" d="M615.16 104.58L615.16 108.08"/>
<path class="g" d="M617.56 104.58L617.56 108.08"/>
<path class="g2" d="M613.46 131.43L619.26 131.43"/>
<path class="g2" d="M613.46 133.03L619.26 133.03"/>
<rect class="g" x="615.16" y="133.83" width="2.4" height="2.9"/>
<path class="gd" d="M615.46 109.78L615.46 131.43"/>
<path class="gd" d="M617.26 109.78L617.26 131.43"/>
<path class="gl" d="M630.92 40.09L650.06 40.09"/>
<path class="gl" d="M630.92 104.22L650.06 104.22"/>
<path class="g" d="M648.56 40.09L648.56 104.22"/>
<path class="gf" d="M648.56 40.09L647.76 42.69L649.36 42.69Z"/>
<path class="gf" d="M648.56 104.22L647.76 101.62L649.36 101.62Z"/>
<text class="d" x="646.56" y="72.15" text-anchor="middle" transform="rotate(-90 646.56 72.15)" textLength="20.5" lengthAdjust="spacingAndGlyphs" style="font-size:8px">12.8±0.3</text>
<path class="gl" d="M492.26 137.63L492.26 169.06"/>
<path class="gl" d="M616.36 137.63L616.36 169.06"/>
<path class="gl" d="M512.94 137.63L512.94 156.5"/>
<path class="g" d="M492.26 155L512.94 155"/>
<path class="gf" d="M492.26 155L494.86 154.2L494.86 155.8Z"/>
<path class="gf" d="M512.94 155L510.34 154.2L510.34 155.8Z"/>
<text class="d" x="502.65" y="153.7" text-anchor="middle" textLength="18.4" lengthAdjust="spacingAndGlyphs" style="font-size:8px">4.2±0.1</text>
<path class="g" d="M492.26 167.56L616.36 167.56"/>
<path class="gf" d="M492.26 167.56L494.86 166.76L494.86 168.36Z"/>
<path class="gf" d="M616.36 167.56L613.76 166.76L613.76 168.36Z"/>
<text class="d" x="553.69" y="166.06" text-anchor="middle" textLength="14.2" lengthAdjust="spacingAndGlyphs">A±0.2</text>
<path class="gl" d="M551.91 137.63L551.91 156"/>
<path class="gl" d="M556.71 137.63L556.71 156"/>
<path class="g" d="M546.21 155L578.27 155"/>
<path class="gf" d="M551.91 155L549.31 154.2L549.31 155.8Z"/>
<path class="gf" d="M556.71 155L559.31 154.2L559.31 155.8Z"/>
<text class="d" x="570.79" y="153.7" text-anchor="middle" textLength="13.4" lengthAdjust="spacingAndGlyphs" style="font-size:8px">□1.14</text>
<rect class="g2" x="760.56" y="38.44" width="49.71" height="63.74"/>
<path class="g2" d="M761.16 38.44L761.16 102.18"/>
<path class="g2" d="M810.26 38.44L817.68 45.06L817.68 50.47L810.26 50.47"/>
<path class="gd" d="M785.21 38.44L785.21 102.18"/>
<path class="g2" d="M760.56 102.18L743.11 102.18L741.11 103.38L741.11 107.29L773.18 107.29Q777.39 107.29 778.59 102.18"/>
<path class="g" d="M743.11 102.18L743.11 107.59"/>
<path class="g2" d="M794.23 102.18L794.23 126.24Q794.23 129.24 791.23 129.24L743.11 129.24L741.11 130.44L741.11 134.25L794.23 134.25L794.33 134.25Q799.64 134.25 799.64 128.75L799.64 102.18"/>
<path class="g" d="M743.11 129.24L743.11 134.25"/>
<path class="gl" d="M719.97 105.19L741.11 105.19"/>
<path class="gl" d="M719.97 131.65L741.11 131.65"/>
<path class="g" d="M721.47 105.19L721.47 131.65"/>
<path class="gf" d="M721.47 105.19L720.67 107.79L722.27 107.79Z"/>
<path class="gf" d="M721.47 131.65L720.67 129.05L722.27 129.05Z"/>
<text class="d" x="719.47" y="119.62" text-anchor="middle" transform="rotate(-90 719.47 119.62)" textLength="17.6" lengthAdjust="spacingAndGlyphs" style="font-size:8.5px">5.5±0.2</text>
<path class="gl" d="M741.11 134.25L741.11 153.79"/>
<path class="g" d="M760.56 102.18L760.56 153.79"/>
<path class="gl" d="M761.76 102.18L761.76 153.79"/>
<path class="gl" d="M809.66 102.18L809.66 153.79"/>
<path class="g" d="M717.06 152.29L809.66 152.29"/>
<path class="gf" d="M741.11 152.29L743.71 151.49L743.71 153.09Z"/>
<path class="gf" d="M760.56 152.29L757.96 151.49L757.96 153.09Z"/>
<path class="gf" d="M761.76 152.29L764.36 151.49L764.36 153.09Z"/>
<path class="gf" d="M809.66 152.29L807.06 151.49L807.06 153.09Z"/>
<text class="d" x="728.08" y="150.79" text-anchor="middle" textLength="20.6" lengthAdjust="spacingAndGlyphs" style="font-size:8.5px">3.75±0.2</text>
<text class="d" x="786.21" y="150.79" text-anchor="middle" textLength="18" lengthAdjust="spacingAndGlyphs" style="font-size:8.5px">9.7±0.3</text>
<path class="gl" d="M477.37 202.21L477.37 225.5"/>
<path class="gl" d="M641.72 202.21L641.72 225.5"/>
<path class="g" d="M477.37 203.71L641.72 203.71"/>
<path class="gf" d="M477.37 203.71L479.97 202.91L479.97 204.51Z"/>
<path class="gf" d="M641.72 203.71L639.12 202.91L639.12 204.51Z"/>
<text class="d" x="559.41" y="201.91" text-anchor="middle" textLength="15.5" lengthAdjust="spacingAndGlyphs" style="font-size:8px">B±0.4</text>
<path class="g2" d="M477.37 273.19L477.37 224.7Q477.37 222.5 479.57 222.5L639.52 222.5Q641.72 222.5 641.72 224.7L641.72 256.62L638.51 258.49L641.72 260.36L641.72 273.19"/>
<path class="g2" d="M477.37 273.19L481.38 273.19L484.65 276.39L485.92 273.19L633.17 273.19L634.44 276.39L637.71 273.19L641.72 273.19"/>
<rect class="g2" x="551.66" y="214.5" width="15.77" height="8"/>
<path class="gl" d="M492.47 225.72L492.47 294.57"/>
<rect class="g2" x="482.72" y="227.22" width="19.51" height="19.24"/>
<path class="gl" d="M483.72 236.84L501.22 236.84"/>
<rect class="sqo" x="489.67" y="234.04" width="5.6" height="5.6"/>
<rect class="sq" x="491.07" y="235.44" width="2.8" height="2.8"/>
<path class="g2" d="M482.72 249.14L502.22 249.14L502.22 264.78L498.62 268.38L486.32 268.38L482.72 264.78Z"/>
<path class="gl" d="M483.72 258.76L501.22 258.76"/>
<rect class="sqo" x="489.67" y="255.96" width="5.6" height="5.6"/>
<rect class="sq" x="491.07" y="257.36" width="2.8" height="2.8"/>
<path class="g2" d="M489.87 273.19L489.87 292.07L490.87 294.57L494.07 294.57L495.07 292.07L495.07 273.19"/>
<path class="g" d="M489.87 290.57L495.07 290.57"/>
<path class="gl" d="M514.84 225.72L514.84 294.57"/>
<rect class="g2" x="505.08" y="227.22" width="19.51" height="19.24"/>
<path class="gl" d="M506.08 236.84L523.59 236.84"/>
<rect class="sqo" x="512.04" y="234.04" width="5.6" height="5.6"/>
<rect class="sq" x="513.44" y="235.44" width="2.8" height="2.8"/>
<path class="g2" d="M505.08 249.14L524.59 249.14L524.59 264.78L520.99 268.38L508.68 268.38L505.08 264.78Z"/>
<path class="gl" d="M506.08 258.76L523.59 258.76"/>
<rect class="sqo" x="512.04" y="255.96" width="5.6" height="5.6"/>
<rect class="sq" x="513.44" y="257.36" width="2.8" height="2.8"/>
<path class="g2" d="M512.24 273.19L512.24 292.07L513.24 294.57L516.44 294.57L517.44 292.07L517.44 273.19"/>
<path class="g" d="M512.24 290.57L517.44 290.57"/>
<path class="gl" d="M537.2 225.72L537.2 294.57"/>
<path class="g2" d="M527.45 227.22L546.96 227.22L546.96 242.86L543.36 246.46L531.05 246.46L527.45 242.86Z"/>
<path class="gl" d="M528.45 236.84L545.96 236.84"/>
<rect class="sqo" x="534.4" y="234.04" width="5.6" height="5.6"/>
<rect class="sq" x="535.8" y="235.44" width="2.8" height="2.8"/>
<rect class="g2" x="527.45" y="249.14" width="19.51" height="19.24"/>
<path class="gl" d="M528.45 258.76L545.96 258.76"/>
<rect class="sqo" x="534.4" y="255.96" width="5.6" height="5.6"/>
<rect class="sq" x="535.8" y="257.36" width="2.8" height="2.8"/>
<path class="g2" d="M534.6 273.19L534.6 292.07L535.6 294.57L538.8 294.57L539.8 292.07L539.8 273.19"/>
<path class="g" d="M534.6 290.57L539.8 290.57"/>
<path class="gl" d="M559.57 225.72L559.57 294.57"/>
<path class="g2" d="M549.82 227.22L569.33 227.22L569.33 242.86L565.73 246.46L553.42 246.46L549.82 242.86Z"/>
<path class="gl" d="M550.82 236.84L568.33 236.84"/>
<rect class="sqo" x="556.77" y="234.04" width="5.6" height="5.6"/>
<rect class="sq" x="558.17" y="235.44" width="2.8" height="2.8"/>
<rect class="g2" x="549.82" y="249.14" width="19.51" height="19.24"/>
<path class="gl" d="M550.82 258.76L568.33 258.76"/>
<rect class="sqo" x="556.77" y="255.96" width="5.6" height="5.6"/>
<rect class="sq" x="558.17" y="257.36" width="2.8" height="2.8"/>
<path class="g2" d="M556.97 273.19L556.97 292.07L557.97 294.57L561.17 294.57L562.17 292.07L562.17 273.19"/>
<path class="g" d="M556.97 290.57L562.17 290.57"/>
<path class="gl" d="M581.94 225.72L581.94 294.57"/>
<rect class="g2" x="572.19" y="227.22" width="19.51" height="19.24"/>
<path class="gl" d="M573.19 236.84L590.69 236.84"/>
<rect class="sqo" x="579.14" y="234.04" width="5.6" height="5.6"/>
<rect class="sq" x="580.54" y="235.44" width="2.8" height="2.8"/>
<path class="g2" d="M572.19 249.14L591.69 249.14L591.69 264.78L588.09 268.38L575.79 268.38L572.19 264.78Z"/>
<path class="gl" d="M573.19 258.76L590.69 258.76"/>
<rect class="sqo" x="579.14" y="255.96" width="5.6" height="5.6"/>
<rect class="sq" x="580.54" y="257.36" width="2.8" height="2.8"/>
<path class="g2" d="M579.34 273.19L579.34 292.07L580.34 294.57L583.54 294.57L584.54 292.07L584.54 273.19"/>
<path class="g" d="M579.34 290.57L584.54 290.57"/>
<path class="gl" d="M604.31 225.72L604.31 294.57"/>
<rect class="g2" x="594.55" y="227.22" width="19.51" height="19.24"/>
<path class="gl" d="M595.55 236.84L613.06 236.84"/>
<rect class="sqo" x="601.51" y="234.04" width="5.6" height="5.6"/>
<rect class="sq" x="602.91" y="235.44" width="2.8" height="2.8"/>
<path class="g2" d="M594.55 249.14L614.06 249.14L614.06 264.78L610.46 268.38L598.15 268.38L594.55 264.78Z"/>
<path class="gl" d="M595.55 258.76L613.06 258.76"/>
<rect class="sqo" x="601.51" y="255.96" width="5.6" height="5.6"/>
<rect class="sq" x="602.91" y="257.36" width="2.8" height="2.8"/>
<path class="g2" d="M601.71 273.19L601.71 292.07L602.71 294.57L605.91 294.57L606.91 292.07L606.91 273.19"/>
<path class="g" d="M601.71 290.57L606.91 290.57"/>
<path class="gl" d="M626.68 225.72L626.68 294.57"/>
<path class="g2" d="M616.92 227.22L636.43 227.22L636.43 242.86L632.83 246.46L620.52 246.46L616.92 242.86Z"/>
<path class="gl" d="M617.92 236.84L635.43 236.84"/>
<rect class="sqo" x="623.88" y="234.04" width="5.6" height="5.6"/>
<rect class="sq" x="625.28" y="235.44" width="2.8" height="2.8"/>
<rect class="g2" x="616.92" y="249.14" width="19.51" height="19.24"/>
<path class="gl" d="M617.92 258.76L635.43 258.76"/>
<rect class="sqo" x="623.88" y="255.96" width="5.6" height="5.6"/>
<rect class="sq" x="625.28" y="257.36" width="2.8" height="2.8"/>
<path class="g2" d="M624.08 273.19L624.08 292.07L625.08 294.57L628.28 294.57L629.28 292.07L629.28 273.19"/>
<path class="g" d="M624.08 290.57L629.28 290.57"/>
<path class="gl" d="M559.57 211.72L559.57 227.22"/>
<path class="gl" d="M636.43 236.84L661.93 236.84"/>
<path class="gl" d="M641.72 258.76L661.93 258.76"/>
<path class="g" d="M660.43 236.84L660.43 258.76"/>
<path class="gf" d="M660.43 236.84L659.63 239.44L661.23 239.44Z"/>
<path class="gf" d="M660.43 258.76L659.63 256.16L661.23 256.16Z"/>
<text class="d" x="659.83" y="248.3" text-anchor="middle" transform="rotate(-90 659.83 248.3)" textLength="20" lengthAdjust="spacingAndGlyphs">4.2±0.1</text>
<path class="g" d="M493.4 234.44L498.75 211.72L500.09 211.19L504.09 211.19"/>
<text class="dg" x="504.9" y="213.86" text-anchor="start" textLength="35.3" lengthAdjust="spacingAndGlyphs" style="font-size:8px">CIRCUIT LAST</text>
<path class="g" d="M626.49 259.29L637.71 286.02L643.86 286.02"/>
<text class="dg" x="644.39" y="288.69" text-anchor="start" textLength="26.7" lengthAdjust="spacingAndGlyphs" style="font-size:8px">CIRCUIT 1</text>
<path class="g" d="M604.31 259.29L639.58 302.05L643.86 302.05"/>
<text class="dg" x="644.39" y="304.72" text-anchor="start" textLength="27.5" lengthAdjust="spacingAndGlyphs" style="font-size:8px">CIRCUIT 2</text>
<path class="k2" d="M626.49 259.29L629.16 265.71"/>
<path class="k2" d="M604.31 259.29L608.58 264.37"/>
<path class="k2" d="M493.4 234.44L494.21 230.96"/>
<path class="b" d="M481.56 393.63L637.72 393.63"/>
<path class="b" d="M481.56 523.15L632.32 523.15"/>
<path class="b" d="M482.56 393.63L482.56 523.15"/>
<path class="bf" d="M482.56 393.63L481.76 396.23L483.36 396.23Z"/>
<path class="bf" d="M482.56 523.15L481.76 520.55L483.36 520.55Z"/>
<text class="dk" x="480.96" y="459.65" text-anchor="middle" transform="rotate(-90 480.96 459.65)" textLength="17" lengthAdjust="spacingAndGlyphs" style="font-size:7.5px">24±0.3</text>
<path class="b2" d="M506.48 393.63L506.48 456.96L517.81 456.96L517.81 399.03L549.11 399.03L549.11 393.63"/>
<path class="b" d="M511.88 456.96L511.88 523.15"/>
<path class="b" d="M505.94 414.68L498.93 414.68L496.95 462.71L492.63 465.05L492.63 477.64L501.62 501.93L505.94 420.98"/>
<path class="b2" d="M637.72 393.63L637.72 456.96L626.39 456.96L626.39 399.03L595.09 399.03L595.09 393.63"/>
<path class="b" d="M632.32 456.96L632.32 523.15"/>
<path class="b" d="M638.26 414.68L645.27 414.68L647.25 462.71L651.57 465.05L651.57 477.64L642.58 501.93L638.26 420.98"/>
<path class="bd2" d="M572.1 393.63L572.1 505.17"/>
<path class="b" d="M562.61 523.15L562.61 505.17L581.59 505.17L581.59 523.15"/>
<path class="b" d="M562.61 510.02L581.59 510.02"/>
<path class="b" d="M572.1 505.17L572.1 523.15"/>
<path class="b" d="M755.73 393.85L819.37 393.85"/>
<rect class="b2" x="755.73" y="393.85" width="8.93" height="63.2"/>
<rect class="b2" x="810.89" y="393.85" width="8.49" height="63.2"/>
<path class="b2" d="M761.9 457.04L761.9 522.9L813.5 522.9L813.5 457.04"/>
<rect class="b2" x="774.27" y="414.61" width="26.57" height="87.54"/>
<path class="b2" d="M774.27 419.75L800.84 419.75"/>
<rect class="bfs" x="774.27" y="461.29" width="26.57" height="4.24"/>
<path class="b" d="M774.27 477.14L800.84 477.14"/>
<path class="b" d="M761.9 505.6L754.8 505.2L754.8 509.8L761.9 522.5"/>
<path class="b" d="M761.9 522.9L761.9 547.87"/>
<path class="b" d="M813.5 522.9L813.5 547.87"/>
<path class="b" d="M761.9 546.37L813.5 546.37"/>
<path class="bf" d="M761.9 546.37L764.5 545.57L764.5 547.17Z"/>
<path class="bf" d="M813.5 546.37L810.9 545.57L810.9 547.17Z"/>
<text class="dk" x="787.44" y="544.97" text-anchor="middle" textLength="19" lengthAdjust="spacingAndGlyphs" style="font-size:7.5px">9.7±0.2</text>
<path class="b" d="M513.85 561.8L513.85 592.67"/>
<path class="b" d="M634.34 561.8L634.34 592.67"/>
<path class="b" d="M513.85 563.3L634.34 563.3"/>
<path class="bf" d="M513.85 563.3L516.45 562.5L516.45 564.1Z"/>
<path class="bf" d="M634.34 563.3L631.74 562.5L631.74 564.1Z"/>
<text class="dk" x="575.1" y="562.8" text-anchor="middle" textLength="19" lengthAdjust="spacingAndGlyphs" style="font-size:7.5px">B±0.45</text>
<path class="b" d="M528.55 573.1L528.55 599.35"/>
<path class="b" d="M619.64 573.1L619.64 599.35"/>
<path class="b" d="M528.55 574.6L619.64 574.6"/>
<path class="bf" d="M528.55 574.6L531.15 573.8L531.15 575.4Z"/>
<path class="bf" d="M619.64 574.6L617.04 573.8L617.04 575.4Z"/>
<text class="dk" x="574.65" y="574.5" text-anchor="middle" textLength="16" lengthAdjust="spacingAndGlyphs" style="font-size:7.5px">A±0.2</text>
<rect class="b" x="513.85" y="592.67" width="120.49" height="50.56"/>
<path class="b" d="M513.85 600.47L508.51 600.47L508.51 586.1L551.27 586.1L551.27 592.67"/>
<path class="b" d="M520.09 586.1L520.09 592.67"/>
<path class="b" d="M634.34 600.47L639.91 600.47L639.91 586.1L596.93 586.1L596.93 592.67"/>
<path class="b" d="M628.11 586.1L628.11 592.67"/>
<rect class="b" x="564.63" y="585.99" width="18.93" height="6.68"/>
<path class="b" d="M513.85 639.89L508.51 639.89L508.51 649.2L639.91 649.2L639.91 639.89L634.34 639.89"/>
<path class="b" d="M520.09 643.23L520.09 649.2"/>
<path class="b" d="M628.11 643.23L628.11 649.2"/>
<path class="b" d="M569.09 645.01L580.22 645.01L584.68 641.22L589.13 645.01L600.27 645.01"/>
<rect class="b" x="495.14" y="604.92" width="18.71" height="26.73"/>
<path class="b" d="M504.05 604.92L504.05 631.65"/>
<path class="b" d="M507.84 604.92L507.84 631.65"/>
<rect class="b" x="634.34" y="604.92" width="19.38" height="26.73"/>
<path class="b" d="M643.7 604.92L643.7 631.65"/>
<path class="b" d="M647.04 604.92L647.04 631.65"/>
<path class="bt" d="M493.36 617.84L655.95 617.84"/>
<path class="bt" d="M574.65 584.21L574.65 652.36"/>
<path class="b2" d="M518.31 596.68L539.69 596.68L539.69 613.52L536.49 616.72L521.51 616.72L518.31 613.52Z"/>
<path class="b" d="M523.61 596.68L523.61 611.32L526.01 613.92L531.99 613.92L534.39 611.32L534.39 596.68"/>
<path class="bm" d="M521.01 596.68L521.01 613.12L523.21 615.32L534.79 615.32L536.99 613.12L536.99 596.68"/>
<path class="bt" d="M521.01 600.68L523.61 600.68"/>
<path class="bt" d="M534.39 600.68L536.99 600.68"/>
<path class="bt" d="M521.01 605.68L523.61 605.68"/>
<path class="bt" d="M534.39 605.68L536.99 605.68"/>
<path class="bt" d="M521.01 610.68L523.61 610.68"/>
<path class="bt" d="M534.39 610.68L536.99 610.68"/>
<rect class="b" x="525.4" y="598.28" width="7.2" height="4"/>
<path class="bt" d="M525.4 600.28L532.6 600.28"/>
<path class="bg" d="M529 602.28L529 613.92"/>
<path class="bt" d="M527.9 613.92L527.9 616.72"/>
<path class="bt" d="M530.1 613.92L530.1 616.72"/>
<path class="b2" d="M541.25 596.68L562.41 596.68L562.41 613.52L559.21 616.72L544.45 616.72L541.25 613.52Z"/>
<path class="b" d="M546.55 596.68L546.55 611.32L548.95 613.92L554.71 613.92L557.11 611.32L557.11 596.68"/>
<path class="bm" d="M543.95 596.68L543.95 613.12L546.15 615.32L557.51 615.32L559.71 613.12L559.71 596.68"/>
<path class="bt" d="M543.95 600.68L546.55 600.68"/>
<path class="bt" d="M557.11 600.68L559.71 600.68"/>
<path class="bt" d="M543.95 605.68L546.55 605.68"/>
<path class="bt" d="M557.11 605.68L559.71 605.68"/>
<path class="bt" d="M543.95 610.68L546.55 610.68"/>
<path class="bt" d="M557.11 610.68L559.71 610.68"/>
<rect class="b" x="548.23" y="598.28" width="7.2" height="4"/>
<path class="bt" d="M548.23 600.28L555.43 600.28"/>
<path class="bg" d="M551.83 602.28L551.83 613.92"/>
<path class="bt" d="M550.73 613.92L550.73 616.72"/>
<path class="bt" d="M552.93 613.92L552.93 616.72"/>
<rect class="b2" x="564.19" y="596.68" width="20.94" height="20.04"/>
<path class="b" d="M569.49 596.68L569.49 611.32L571.89 613.92L577.42 613.92L579.82 611.32L579.82 596.68"/>
<path class="bm" d="M566.89 596.68L566.89 613.12L569.09 615.32L580.22 615.32L582.42 613.12L582.42 596.68"/>
<path class="bt" d="M566.89 600.68L569.49 600.68"/>
<path class="bt" d="M579.82 600.68L582.42 600.68"/>
<path class="bt" d="M566.89 605.68L569.49 605.68"/>
<path class="bt" d="M579.82 605.68L582.42 605.68"/>
<path class="bt" d="M566.89 610.68L569.49 610.68"/>
<path class="bt" d="M579.82 610.68L582.42 610.68"/>
<rect class="b" x="571.05" y="598.28" width="7.2" height="4"/>
<path class="bt" d="M571.05 600.28L578.25 600.28"/>
<path class="bg" d="M574.65 602.28L574.65 613.92"/>
<path class="bt" d="M573.55 613.92L573.55 616.72"/>
<path class="bt" d="M575.75 613.92L575.75 616.72"/>
<rect class="b2" x="586.9" y="596.68" width="20.49" height="20.04"/>
<path class="b" d="M592.2 596.68L592.2 611.32L594.6 613.92L599.69 613.92L602.09 611.32L602.09 596.68"/>
<path class="bm" d="M589.6 596.68L589.6 613.12L591.8 615.32L602.49 615.32L604.69 613.12L604.69 596.68"/>
<path class="bt" d="M589.6 600.68L592.2 600.68"/>
<path class="bt" d="M602.09 600.68L604.69 600.68"/>
<path class="bt" d="M589.6 605.68L592.2 605.68"/>
<path class="bt" d="M602.09 605.68L604.69 605.68"/>
<path class="bt" d="M589.6 610.68L592.2 610.68"/>
<path class="bt" d="M602.09 610.68L604.69 610.68"/>
<rect class="b" x="593.55" y="598.28" width="7.2" height="4"/>
<path class="bt" d="M593.55 600.28L600.75 600.28"/>
<path class="bg" d="M597.15 602.28L597.15 613.92"/>
<path class="bt" d="M596.05 613.92L596.05 616.72"/>
<path class="bt" d="M598.25 613.92L598.25 616.72"/>
<path class="b2" d="M609.18 596.68L630.33 596.68L630.33 613.52L627.13 616.72L612.38 616.72L609.18 613.52Z"/>
<path class="b" d="M614.48 596.68L614.48 611.32L616.88 613.92L622.63 613.92L625.03 611.32L625.03 596.68"/>
<path class="bm" d="M611.88 596.68L611.88 613.12L614.08 615.32L625.43 615.32L627.63 613.12L627.63 596.68"/>
<path class="bt" d="M611.88 600.68L614.48 600.68"/>
<path class="bt" d="M625.03 600.68L627.63 600.68"/>
<path class="bt" d="M611.88 605.68L614.48 605.68"/>
<path class="bt" d="M625.03 605.68L627.63 605.68"/>
<path class="bt" d="M611.88 610.68L614.48 610.68"/>
<path class="bt" d="M625.03 610.68L627.63 610.68"/>
<rect class="b" x="616.16" y="598.28" width="7.2" height="4"/>
<path class="bt" d="M616.16 600.28L623.36 600.28"/>
<path class="bg" d="M619.76 602.28L619.76 613.92"/>
<path class="bt" d="M618.66 613.92L618.66 616.72"/>
<path class="bt" d="M620.86 613.92L620.86 616.72"/>
<rect class="b2" x="518.31" y="618.95" width="21.38" height="20.49"/>
<path class="b" d="M523.61 618.95L523.61 634.04L526.01 636.64L531.99 636.64L534.39 634.04L534.39 618.95"/>
<path class="bm" d="M521.01 618.95L521.01 635.84L523.21 638.04L534.79 638.04L536.99 635.84L536.99 618.95"/>
<path class="bt" d="M521.01 622.95L523.61 622.95"/>
<path class="bt" d="M534.39 622.95L536.99 622.95"/>
<path class="bt" d="M521.01 627.95L523.61 627.95"/>
<path class="bt" d="M534.39 627.95L536.99 627.95"/>
<path class="bt" d="M521.01 632.95L523.61 632.95"/>
<path class="bt" d="M534.39 632.95L536.99 632.95"/>
<rect class="b" x="525.4" y="620.55" width="7.2" height="4"/>
<path class="bt" d="M525.4 622.55L532.6 622.55"/>
<path class="bg" d="M529 624.55L529 636.64"/>
<path class="bt" d="M527.9 636.64L527.9 639.44"/>
<path class="bt" d="M530.1 636.64L530.1 639.44"/>
<rect class="b2" x="541.25" y="618.95" width="21.16" height="20.49"/>
<path class="b" d="M546.55 618.95L546.55 634.04L548.95 636.64L554.71 636.64L557.11 634.04L557.11 618.95"/>
<path class="bm" d="M543.95 618.95L543.95 635.84L546.15 638.04L557.51 638.04L559.71 635.84L559.71 618.95"/>
<path class="bt" d="M543.95 622.95L546.55 622.95"/>
<path class="bt" d="M557.11 622.95L559.71 622.95"/>
<path class="bt" d="M543.95 627.95L546.55 627.95"/>
<path class="bt" d="M557.11 627.95L559.71 627.95"/>
<path class="bt" d="M543.95 632.95L546.55 632.95"/>
<path class="bt" d="M557.11 632.95L559.71 632.95"/>
<rect class="b" x="548.23" y="620.55" width="7.2" height="4"/>
<path class="bt" d="M548.23 622.55L555.43 622.55"/>
<path class="bg" d="M551.83 624.55L551.83 636.64"/>
<path class="bt" d="M550.73 636.64L550.73 639.44"/>
<path class="bt" d="M552.93 636.64L552.93 639.44"/>
<path class="b2" d="M564.19 618.95L585.12 618.95L585.12 636.24L581.92 639.44L567.39 639.44L564.19 636.24Z"/>
<path class="b" d="M569.49 618.95L569.49 634.04L571.89 636.64L577.42 636.64L579.82 634.04L579.82 618.95"/>
<path class="bm" d="M566.89 618.95L566.89 635.84L569.09 638.04L580.22 638.04L582.42 635.84L582.42 618.95"/>
<path class="bt" d="M566.89 622.95L569.49 622.95"/>
<path class="bt" d="M579.82 622.95L582.42 622.95"/>
<path class="bt" d="M566.89 627.95L569.49 627.95"/>
<path class="bt" d="M579.82 627.95L582.42 627.95"/>
<path class="bt" d="M566.89 632.95L569.49 632.95"/>
<path class="bt" d="M579.82 632.95L582.42 632.95"/>
<rect class="b" x="571.05" y="620.55" width="7.2" height="4"/>
<path class="bt" d="M571.05 622.55L578.25 622.55"/>
<path class="bg" d="M574.65 624.55L574.65 636.64"/>
<path class="bt" d="M573.55 636.64L573.55 639.44"/>
<path class="bt" d="M575.75 636.64L575.75 639.44"/>
<path class="b2" d="M586.9 618.95L607.39 618.95L607.39 636.24L604.19 639.44L590.1 639.44L586.9 636.24Z"/>
<path class="b" d="M592.2 618.95L592.2 634.04L594.6 636.64L599.69 636.64L602.09 634.04L602.09 618.95"/>
<path class="bm" d="M589.6 618.95L589.6 635.84L591.8 638.04L602.49 638.04L604.69 635.84L604.69 618.95"/>
<path class="bt" d="M589.6 622.95L592.2 622.95"/>
<path class="bt" d="M602.09 622.95L604.69 622.95"/>
<path class="bt" d="M589.6 627.95L592.2 627.95"/>
<path class="bt" d="M602.09 627.95L604.69 627.95"/>
<path class="bt" d="M589.6 632.95L592.2 632.95"/>
<path class="bt" d="M602.09 632.95L604.69 632.95"/>
<rect class="b" x="593.55" y="620.55" width="7.2" height="4"/>
<path class="bt" d="M593.55 622.55L600.75 622.55"/>
<path class="bg" d="M597.15 624.55L597.15 636.64"/>
<path class="bt" d="M596.05 636.64L596.05 639.44"/>
<path class="bt" d="M598.25 636.64L598.25 639.44"/>
<rect class="b2" x="609.18" y="618.95" width="21.16" height="20.49"/>
<path class="b" d="M614.48 618.95L614.48 634.04L616.88 636.64L622.63 636.64L625.03 634.04L625.03 618.95"/>
<path class="bm" d="M611.88 618.95L611.88 635.84L614.08 638.04L625.43 638.04L627.63 635.84L627.63 618.95"/>
<path class="bt" d="M611.88 622.95L614.48 622.95"/>
<path class="bt" d="M625.03 622.95L627.63 622.95"/>
<path class="bt" d="M611.88 627.95L614.48 627.95"/>
<path class="bt" d="M625.03 627.95L627.63 627.95"/>
<path class="bt" d="M611.88 632.95L614.48 632.95"/>
<path class="bt" d="M625.03 632.95L627.63 632.95"/>
<rect class="b" x="616.16" y="620.55" width="7.2" height="4"/>
<path class="bt" d="M616.16 622.55L623.36 622.55"/>
<path class="bg" d="M619.76 624.55L619.76 636.64"/>
<path class="bt" d="M618.66 636.64L618.66 639.44"/>
<path class="bt" d="M620.86 636.64L620.86 639.44"/>
<path class="b" d="M690.14 582.33L849.27 582.33"/>
<path class="b" d="M690.14 645.13L849.27 645.13"/>
<path class="b" d="M691.14 582.33L691.14 645.13"/>
<path class="bf" d="M691.14 582.33L690.34 584.93L691.94 584.93Z"/>
<path class="bf" d="M691.14 645.13L690.34 642.53L691.94 642.53Z"/>
<text class="dk" x="689.54" y="617.07" text-anchor="middle" transform="rotate(-90 689.54 617.07)" textLength="20.7" lengthAdjust="spacingAndGlyphs" style="font-size:8px">11.6±0.3</text>
<path class="b" d="M717.86 582.33L717.86 591.68L724.54 591.68L724.54 636.22L717.86 636.22L717.86 645.13"/>
<path class="b" d="M849.27 582.33L849.27 591.68L843.7 591.68L843.7 636.22L849.27 636.22L849.27 645.13"/>
<rect class="b" x="703.39" y="600.59" width="21.16" height="26.73"/>
<rect class="bfs" x="703.39" y="600.59" width="4.45" height="26.73"/>
<path class="b" d="M711.18 600.59L711.18 627.32"/>
<text class="nb" x="716.2" y="614.9" text-anchor="middle" transform="rotate(180 716.2 614.9)" dominant-baseline="central">E</text>
<rect class="b" x="843.7" y="601.7" width="18.93" height="25.17"/>
<rect class="bfs" x="857.73" y="601.7" width="4.9" height="25.17"/>
<path class="bt" d="M843.7 606.16L857.73 606.16"/>
<path class="bt" d="M843.7 622.86L857.73 622.86"/>
<path class="b" d="M862.63 603.93L872.59 603.93"/>
<path class="b" d="M862.63 625.09L872.59 625.09"/>
<path class="b" d="M871.09 581.66L871.09 625.09"/>
<path class="bf" d="M871.09 603.93L870.29 606.53L871.89 606.53Z"/>
<path class="bf" d="M871.09 625.09L870.29 622.49L871.89 622.49Z"/>
<text class="dk" x="869.49" y="590.57" text-anchor="middle" transform="rotate(-90 869.49 590.57)" textLength="19" lengthAdjust="spacingAndGlyphs" style="font-size:8px">4.2±0.1</text>
<path class="b" d="M805.84 570.58L805.84 593.91"/>
<path class="b" d="M828.11 570.58L828.11 593.91"/>
<path class="b" d="M805.84 572.08L828.11 572.08"/>
<path class="bf" d="M805.84 572.08L808.44 571.28L808.44 572.88Z"/>
<path class="bf" d="M828.11 572.08L825.51 571.28L825.51 572.88Z"/>
<text class="dk" x="817.64" y="571.08" text-anchor="middle" textLength="19" lengthAdjust="spacingAndGlyphs" style="font-size:8px">4.2±0.1</text>
<rect class="wb" x="774.65" y="640.7" width="18.93" height="5.6"/>
<rect class="b2" x="727.88" y="592.79" width="21.16" height="20.04"/>
<path class="b" d="M728.68 593.99L732.88 597.09L744.04 597.09L748.24 593.99"/>
<path class="b" d="M732.88 597.09L732.88 612.84"/>
<path class="b" d="M744.04 597.09L744.04 612.84"/>
<path class="b" d="M727.88 603.99L732.88 603.99"/>
<path class="b" d="M744.04 603.99L749.04 603.99"/>
<path class="b" d="M727.88 606.19L732.88 606.19"/>
<path class="b" d="M744.04 606.19L749.04 606.19"/>
<path class="bt" d="M736.76 597.09L736.76 608.44"/>
<path class="bt" d="M740.16 597.09L740.16 608.44"/>
<path class="bt" d="M738.46 591.59L738.46 600.79"/>
<rect class="b" x="735.36" y="608.44" width="6.2" height="4.4"/>
<rect class="b2" x="751.27" y="592.79" width="20.04" height="20.04"/>
<path class="b" d="M752.07 593.99L756.27 597.09L766.31 597.09L770.51 593.99"/>
<path class="b" d="M756.27 597.09L756.27 612.84"/>
<path class="b" d="M766.31 597.09L766.31 612.84"/>
<path class="b" d="M751.27 603.99L756.27 603.99"/>
<path class="b" d="M766.31 603.99L771.31 603.99"/>
<path class="b" d="M751.27 606.19L756.27 606.19"/>
<path class="b" d="M766.31 606.19L771.31 606.19"/>
<path class="bt" d="M759.59 597.09L759.59 608.44"/>
<path class="bt" d="M762.99 597.09L762.99 608.44"/>
<path class="bt" d="M761.29 591.59L761.29 600.79"/>
<rect class="b" x="758.19" y="608.44" width="6.2" height="4.4"/>
<rect class="b2" x="773.54" y="592.79" width="20.49" height="20.04"/>
<path class="b" d="M774.34 593.99L778.54 597.09L789.03 597.09L793.23 593.99"/>
<path class="b" d="M778.54 597.09L778.54 612.84"/>
<path class="b" d="M789.03 597.09L789.03 612.84"/>
<path class="b" d="M773.54 603.99L778.54 603.99"/>
<path class="b" d="M789.03 603.99L794.03 603.99"/>
<path class="b" d="M773.54 606.19L778.54 606.19"/>
<path class="b" d="M789.03 606.19L794.03 606.19"/>
<path class="bt" d="M782.09 597.09L782.09 608.44"/>
<path class="bt" d="M785.49 597.09L785.49 608.44"/>
<path class="bt" d="M783.79 591.59L783.79 600.79"/>
<rect class="b" x="780.69" y="608.44" width="6.2" height="4.4"/>
<rect class="b2" x="796.26" y="592.79" width="20.04" height="20.04"/>
<path class="b" d="M797.06 593.99L801.26 597.09L811.3 597.09L815.5 593.99"/>
<path class="b" d="M801.26 597.09L801.26 612.84"/>
<path class="b" d="M811.3 597.09L811.3 612.84"/>
<path class="b" d="M796.26 603.99L801.26 603.99"/>
<path class="b" d="M811.3 603.99L816.3 603.99"/>
<path class="b" d="M796.26 606.19L801.26 606.19"/>
<path class="b" d="M811.3 606.19L816.3 606.19"/>
<path class="bt" d="M804.58 597.09L804.58 608.44"/>
<path class="bt" d="M807.98 597.09L807.98 608.44"/>
<path class="bt" d="M806.28 591.59L806.28 600.79"/>
<rect class="b" x="803.18" y="608.44" width="6.2" height="4.4"/>
<rect class="b2" x="818.53" y="592.79" width="20.71" height="20.04"/>
<path class="b" d="M819.33 593.99L823.53 597.09L834.24 597.09L838.44 593.99"/>
<path class="b" d="M823.53 597.09L823.53 612.84"/>
<path class="b" d="M834.24 597.09L834.24 612.84"/>
<path class="b" d="M818.53 603.99L823.53 603.99"/>
<path class="b" d="M834.24 603.99L839.24 603.99"/>
<path class="b" d="M818.53 606.19L823.53 606.19"/>
<path class="b" d="M834.24 606.19L839.24 606.19"/>
<path class="bt" d="M827.19 597.09L827.19 608.44"/>
<path class="bt" d="M830.59 597.09L830.59 608.44"/>
<path class="bt" d="M828.89 591.59L828.89 600.79"/>
<rect class="b" x="825.79" y="608.44" width="6.2" height="4.4"/>
<rect class="b2" x="727.88" y="615.07" width="21.16" height="20.04"/>
<path class="b" d="M728.68 616.27L732.88 619.37L744.04 619.37L748.24 616.27"/>
<path class="b" d="M732.88 619.37L732.88 635.11"/>
<path class="b" d="M744.04 619.37L744.04 635.11"/>
<path class="b" d="M727.88 626.27L732.88 626.27"/>
<path class="b" d="M744.04 626.27L749.04 626.27"/>
<path class="b" d="M727.88 628.47L732.88 628.47"/>
<path class="b" d="M744.04 628.47L749.04 628.47"/>
<path class="bt" d="M736.76 619.37L736.76 630.71"/>
<path class="bt" d="M740.16 619.37L740.16 630.71"/>
<path class="bt" d="M738.46 613.87L738.46 623.07"/>
<rect class="b" x="735.36" y="630.71" width="6.2" height="4.4"/>
<rect class="b2" x="751.27" y="615.07" width="20.04" height="20.04"/>
<path class="b" d="M752.07 616.27L756.27 619.37L766.31 619.37L770.51 616.27"/>
<path class="b" d="M756.27 619.37L756.27 635.11"/>
<path class="b" d="M766.31 619.37L766.31 635.11"/>
<path class="b" d="M751.27 626.27L756.27 626.27"/>
<path class="b" d="M766.31 626.27L771.31 626.27"/>
<path class="b" d="M751.27 628.47L756.27 628.47"/>
<path class="b" d="M766.31 628.47L771.31 628.47"/>
<path class="bt" d="M759.59 619.37L759.59 630.71"/>
<path class="bt" d="M762.99 619.37L762.99 630.71"/>
<path class="bt" d="M761.29 613.87L761.29 623.07"/>
<rect class="b" x="758.19" y="630.71" width="6.2" height="4.4"/>
<rect class="b2" x="773.54" y="615.07" width="20.49" height="20.04"/>
<path class="b" d="M774.34 616.27L778.54 619.37L789.03 619.37L793.23 616.27"/>
<path class="b" d="M778.54 619.37L778.54 635.11"/>
<path class="b" d="M789.03 619.37L789.03 635.11"/>
<path class="b" d="M773.54 626.27L778.54 626.27"/>
<path class="b" d="M789.03 626.27L794.03 626.27"/>
<path class="b" d="M773.54 628.47L778.54 628.47"/>
<path class="b" d="M789.03 628.47L794.03 628.47"/>
<path class="bt" d="M782.09 619.37L782.09 630.71"/>
<path class="bt" d="M785.49 619.37L785.49 630.71"/>
<path class="bt" d="M783.79 613.87L783.79 623.07"/>
<rect class="b" x="780.69" y="630.71" width="6.2" height="4.4"/>
<rect class="b2" x="796.26" y="615.07" width="20.04" height="20.04"/>
<path class="b" d="M797.06 616.27L801.26 619.37L811.3 619.37L815.5 616.27"/>
<path class="b" d="M801.26 619.37L801.26 635.11"/>
<path class="b" d="M811.3 619.37L811.3 635.11"/>
<path class="b" d="M796.26 626.27L801.26 626.27"/>
<path class="b" d="M811.3 626.27L816.3 626.27"/>
<path class="b" d="M796.26 628.47L801.26 628.47"/>
<path class="b" d="M811.3 628.47L816.3 628.47"/>
<path class="bt" d="M804.58 619.37L804.58 630.71"/>
<path class="bt" d="M807.98 619.37L807.98 630.71"/>
<path class="bt" d="M806.28 613.87L806.28 623.07"/>
<rect class="b" x="803.18" y="630.71" width="6.2" height="4.4"/>
<rect class="b2" x="818.53" y="615.07" width="20.71" height="20.04"/>
<path class="b" d="M819.33 616.27L823.53 619.37L834.24 619.37L838.44 616.27"/>
<path class="b" d="M823.53 619.37L823.53 635.11"/>
<path class="b" d="M834.24 619.37L834.24 635.11"/>
<path class="b" d="M818.53 626.27L823.53 626.27"/>
<path class="b" d="M834.24 626.27L839.24 626.27"/>
<path class="b" d="M818.53 628.47L823.53 628.47"/>
<path class="b" d="M834.24 628.47L839.24 628.47"/>
<path class="bt" d="M827.19 619.37L827.19 630.71"/>
<path class="bt" d="M830.59 619.37L830.59 630.71"/>
<path class="bt" d="M828.89 613.87L828.89 623.07"/>
<rect class="b" x="825.79" y="630.71" width="6.2" height="4.4"/>
<text class="nb" x="738.35" y="587.67" text-anchor="middle" transform="rotate(180 738.35 587.67)" dominant-baseline="central">5</text>
<text class="nb" x="759.73" y="587.67" text-anchor="middle" transform="rotate(180 759.73 587.67)" dominant-baseline="central">4</text>
<text class="nb" x="782.45" y="587.67" text-anchor="middle" transform="rotate(180 782.45 587.67)" dominant-baseline="central">3</text>
<text class="nb" x="805.84" y="587.67" text-anchor="middle" transform="rotate(180 805.84 587.67)" dominant-baseline="central">2</text>
<text class="nb" x="828.78" y="587.67" text-anchor="middle" transform="rotate(180 828.78 587.67)" dominant-baseline="central">1</text>
<text class="nb" x="739.02" y="639.56" text-anchor="middle" transform="rotate(180 739.02 639.56)" dominant-baseline="central">10</text>
<text class="nb" x="757.95" y="639.56" text-anchor="middle" transform="rotate(180 757.95 639.56)" dominant-baseline="central">9</text>
<text class="nb" x="809.18" y="639.56" text-anchor="middle" transform="rotate(180 809.18 639.56)" dominant-baseline="central">7</text>
<text class="nb" x="828.78" y="639.56" text-anchor="middle" transform="rotate(180 828.78 639.56)" dominant-baseline="central">6</text>
<path class="bt" d="M757.95 637.34L811.4 637.34"/>
</svg>
</body></html>
